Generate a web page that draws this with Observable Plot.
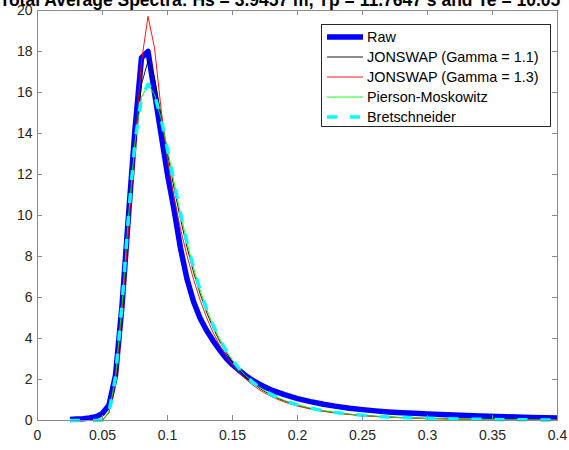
<!DOCTYPE html>
<html><head><meta charset="utf-8">
<script src="https://cdn.jsdelivr.net/npm/d3@7"></script>
<script src="https://cdn.jsdelivr.net/npm/@observablehq/plot@0.6"></script>
<style>
html,body{margin:0;padding:0;background:#fff;}
#wrap{position:relative;width:569px;height:450px;overflow:hidden;font-family:"Liberation Sans",Arial,sans-serif;}
#legend{position:absolute;left:321px;top:24px;width:230px;height:103px;border:1px solid #262626;background:#fff;box-sizing:border-box;}
.row{position:absolute;left:5px;height:20px;display:flex;align-items:center;font-size:14.4px;color:#000;white-space:nowrap;}
.row svg{display:block;margin-right:4px;}
</style></head><body><div id="wrap"></div>
<script>
const title = "Total Average Spectra: Hs = 3.9457 m, Tp = 11.7647 s and Te = 10.05";
const seriesNames = ["Raw", "JONSWAP (Gamma = 1.1)", "JONSWAP (Gamma = 1.3)", "Pierson-Moskowitz", "Bretschneider"];
const xTicks = [0, 0.05, 0.1, 0.15, 0.2, 0.25, 0.3, 0.35, 0.4];
const xTickLabels = ["0", "0.05", "0.1", "0.15", "0.2", "0.25", "0.3", "0.35", "0.4"];
const yTicks = [0, 2, 4, 6, 8, 10, 12, 14, 16, 18, 20];

const freq = [0.025,0.03,0.035,0.04,0.045,0.05,0.055,0.06,0.065,0.07,0.075,0.08,0.085,0.09,0.095,0.1,0.105,0.11,0.115,0.12,0.125,0.13,0.135,0.14,0.145,0.15,0.155,0.16,0.165,0.17,0.175,0.18,0.185,0.19,0.195,0.2,0.21,0.22,0.23,0.24,0.25,0.26,0.27,0.28,0.29,0.3,0.32,0.34,0.36,0.38,0.4];
const raw = [0.05,0.07,0.09,0.12,0.18,0.35,0.75,2.2,5.6,10.0,14.2,17.7,18.0,16.0,14.0,12.0,10.3,8.4,6.9,5.8,5.0,4.4,3.9,3.45,3.05,2.72,2.45,2.2,1.98,1.8,1.63,1.49,1.37,1.26,1.16,1.07,0.92,0.79,0.69,0.6,0.53,0.47,0.42,0.38,0.35,0.32,0.27,0.22,0.18,0.15,0.12];
const jonswap11 = [0,0,0,0,0,0.023,0.393,2.068,5.504,9.739,13.548,16.388,17.546,16.713,14.922,13.043,11.350,9.827,8.458,7.247,6.196,5.294,4.527,3.875,3.326,2.860,2.466,2.132,1.850,1.609,1.404,1.228,1.078,0.949,0.837,0.741,0.585,0.466,0.375,0.304,0.249,0.205,0.170,0.142,0.119,0.101,0.073,0.054,0.041,0.031,0.024];
const jonswap13 = [0,0,0,0,0,0.022,0.374,1.966,5.236,9.324,13.415,17.521,19.713,18.185,15.232,12.707,10.850,9.350,8.041,6.890,5.890,5.033,4.304,3.684,3.162,2.719,2.344,2.027,1.759,1.529,1.334,1.168,1.025,0.902,0.796,0.705,0.556,0.443,0.356,0.289,0.236,0.195,0.162,0.135,0.113,0.096,0.070,0.051,0.039,0.030,0.023];
const piersonMoskowitz = [0,0,0,0,0,0.024,0.404,2.126,5.657,9.973,13.609,15.758,16.399,15.910,14.732,13.224,11.633,10.099,8.696,7.451,6.370,5.443,4.654,3.984,3.419,2.940,2.535,2.192,1.902,1.654,1.443,1.263,1.109,0.976,0.861,0.762,0.601,0.479,0.386,0.313,0.256,0.211,0.175,0.146,0.123,0.104,0.075,0.056,0.042,0.032,0.025];
const bretschneider = [0,0,0,0,0,0.024,0.404,2.126,5.657,9.973,13.609,15.758,16.399,15.910,14.732,13.224,11.633,10.099,8.696,7.451,6.370,5.443,4.654,3.984,3.419,2.940,2.535,2.192,1.902,1.654,1.443,1.263,1.109,0.976,0.861,0.762,0.601,0.479,0.386,0.313,0.256,0.211,0.175,0.146,0.123,0.104,0.075,0.056,0.042,0.032,0.025];

const styles = [
  {stroke: "#0000ff", strokeWidth: 5.5},
  {stroke: "#000000", strokeWidth: 0.9},
  {stroke: "#ff0000", strokeWidth: 0.9},
  {stroke: "#00ff00", strokeWidth: 0.9},
  {stroke: "#00ffff", strokeWidth: 3.5, strokeDasharray: "10,13"}
];
const seriesValues = [raw, jonswap11, jonswap13, piersonMoskowitz, bretschneider];

const W = 569, H = 450;
const mL = 37, mR = 12, mT = 10, mB = 30;
const innerW = W - mL - mR, innerH = H - mT - mB;
const tickLen = 5;
const axisColor = "#8a8a8a";

const lineMarks = seriesValues.map((vals, k) =>
  Plot.line(freq, {x: d => d, y: (d, i) => vals[i], ...styles[k], strokeLinejoin: "round", strokeLinecap: "butt"})
);

const chart = Plot.plot({
  width: W, height: H,
  marginLeft: mL, marginRight: mR, marginTop: mT, marginBottom: mB,
  style: {fontFamily: "'Liberation Sans', Arial, sans-serif", background: "#fff", overflow: "hidden"},
  x: {domain: [0, 0.4]},
  y: {domain: [0, 20]},
  marks: [
    ...lineMarks,
    Plot.frame({stroke: axisColor}),
    Plot.ruleX(xTicks, {x: d => d, insetTop: innerH - tickLen, stroke: axisColor}),
    Plot.ruleX(xTicks, {x: d => d, insetBottom: innerH - tickLen, stroke: axisColor}),
    Plot.ruleY(yTicks, {y: d => d, insetRight: innerW - tickLen, stroke: axisColor}),
    Plot.ruleY(yTicks, {y: d => d, insetLeft: innerW - tickLen, stroke: axisColor}),
    Plot.axisX({ticks: xTicks, tickSize: 0, tickPadding: 10, tickFormat: d => xTickLabels[xTicks.indexOf(d)], fontSize: 14, color: "#262626", label: null}),
    Plot.axisY({ticks: yTicks, tickSize: 0, tickPadding: 5, fontSize: 14, color: "#262626", label: null}),
    Plot.text([title], {frameAnchor: "top-left", dx: -38, dy: -5, textAnchor: "start", lineAnchor: "bottom", fontWeight: "bold", fontSize: 17.5, fill: "#000"})
  ]
});
const wrap = document.getElementById("wrap");
wrap.appendChild(chart);

// legend
const legend = document.createElement("div");
legend.id = "legend";
const rowCenters = [11.5, 32, 52, 72, 92];
seriesNames.forEach((name, k) => {
  const row = document.createElement("div");
  row.className = "row";
  row.style.top = (rowCenters[k] - 10) + "px";
  const s = styles[k];
  row.innerHTML = `<svg width="36" height="20"><line x1="0" x2="36" y1="10" y2="10" stroke="${s.stroke}" stroke-width="${s.strokeWidth}" ${s.strokeDasharray ? `stroke-dasharray="${s.strokeDasharray}"` : ""}/></svg><span>${name}</span>`;
  legend.appendChild(row);
});
wrap.appendChild(legend);
</script></body></html>
